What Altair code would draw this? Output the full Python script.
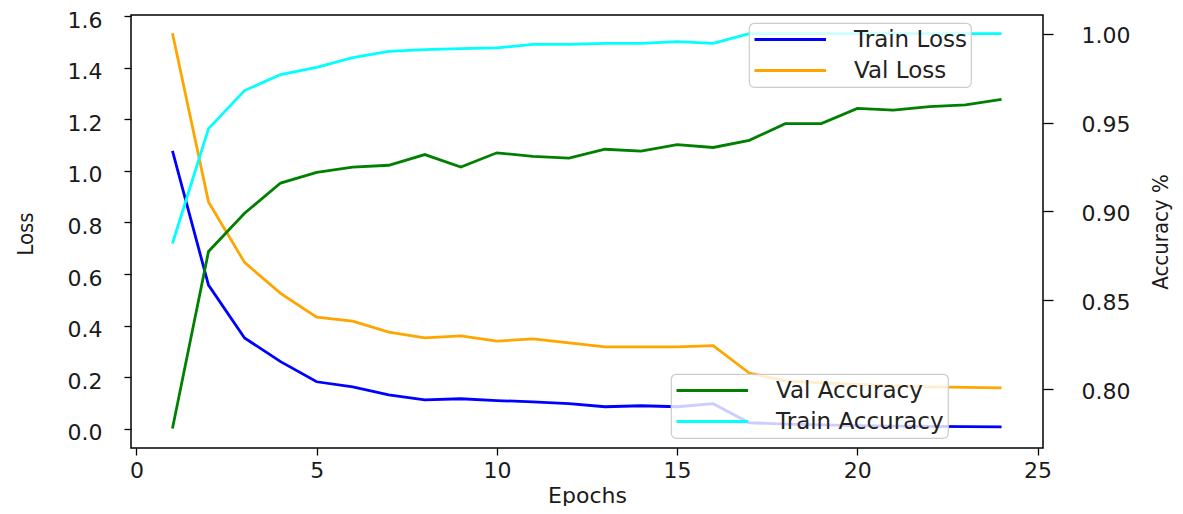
import altair as alt
import pandas as pd

epochs = list(range(1, 25))
train_loss = [1.078, 0.557, 0.352, 0.260, 0.182, 0.162, 0.131, 0.112, 0.116, 0.109, 0.104, 0.097,
              0.085, 0.089, 0.085, 0.097, 0.023, 0.018, 0.015, 0.012, 0.010, 0.009, 0.008, 0.007]
val_loss = [1.534, 0.880, 0.645, 0.525, 0.433, 0.417, 0.375, 0.352, 0.360, 0.340, 0.348, 0.333,
            0.317, 0.317, 0.317, 0.322, 0.216, 0.185, 0.178, 0.172, 0.166, 0.162, 0.160, 0.158]
val_acc = [0.778, 0.8775, 0.899, 0.916, 0.922, 0.925, 0.926, 0.932, 0.925, 0.933, 0.931, 0.930,
           0.935, 0.934, 0.9376, 0.936, 0.940, 0.9494, 0.9494, 0.958, 0.957, 0.959, 0.960, 0.963]
train_acc = [0.882, 0.9466, 0.968, 0.977, 0.981, 0.9865, 0.990, 0.991, 0.9916, 0.992, 0.994, 0.994,
             0.9945, 0.9945, 0.9955, 0.9945, 1.0, 1.0, 1.0, 1.0, 1.0, 1.0, 1.0, 1.0]

loss_names = ["Train Loss", "Val Loss"]
loss_colors = ["#0000ff", "#ffa500"]
acc_names = ["Val Accuracy", "Train Accuracy"]
acc_colors = ["#008000", "#00ffff"]

loss_df = pd.DataFrame({
    "Epoch": epochs * 2,
    "Value": train_loss + val_loss,
    "Series": [loss_names[0]] * len(epochs) + [loss_names[1]] * len(epochs),
})
acc_df = pd.DataFrame({
    "Epoch": epochs * 2,
    "Value": val_acc + train_acc,
    "Series": [acc_names[0]] * len(epochs) + [acc_names[1]] * len(epochs),
})

FONT = "DejaVu Sans"
NARROW = "Liberation Sans Narrow, DejaVu Sans Condensed, Liberation Sans"
W, H = 912, 433

x_enc = alt.X(
    "Epoch:Q",
    scale=alt.Scale(domain=[-0.15, 25.15], nice=False, zero=False),
    axis=alt.Axis(values=[0, 5, 10, 15, 20, 25], format="d", title="Epochs",
                  titleX=W / 2, titleY=54, titleAlign="center", titleBaseline="alphabetic",
                  titleFont=FONT, titleFontSize=22, labelPadding=5),
)

leg_common = dict(
    orient="none", title=None, symbolType="M-1,0L5.5,0", symbolSize=484,
    symbolStrokeWidth=2.8, labelFont=FONT, labelFontSize=23, labelColor="#222222",
    labelOffset=76, labelLimit=500, fillColor="rgba(255,255,255,0.8)", strokeColor="#cccccc",
    cornerRadius=5, padding=4, rowPadding=6,
)

loss = alt.Chart(loss_df).mark_line(strokeWidth=2.8).encode(
    x=x_enc,
    y=alt.Y(
        "Value:Q",
        scale=alt.Scale(domain=[-0.075, 1.605], nice=False, zero=False),
        axis=alt.Axis(orient="left", values=[0, 0.2, 0.4, 0.6, 0.8, 1.0, 1.2, 1.4, 1.6],
                      format=".1f", title="Loss", titleX=-106, titleY=H / 2 + 2, titleAngle=270,
                      titleAlign="center", titleBaseline="middle", titleFont=NARROW,
                      titleFontSize=22, labelPadding=22, labelOffset=4),
    ),
    color=alt.Color("Series:N", scale=alt.Scale(domain=loss_names, range=loss_colors),
                    legend=alt.Legend(legendX=618, legendY=8, **leg_common)),
)

acc = alt.Chart(acc_df).mark_line(strokeWidth=2.8).encode(
    x=x_enc,
    y=alt.Y(
        "Value:Q",
        scale=alt.Scale(domain=[0.767, 1.0105], nice=False, zero=False),
        axis=alt.Axis(orient="right", values=[0.80, 0.85, 0.90, 0.95, 1.00],
                      format=".2f", title="Accuracy %", titleX=117, titleY=H / 2, titleAngle=270,
                      titleAlign="center", titleBaseline="middle", titleFont=NARROW,
                      titleFontSize=22, labelPadding=28, labelOffset=2, tickSize=10),
    ),
    color=alt.Color("Series:N", scale=alt.Scale(domain=acc_names, range=acc_colors),
                    legend=alt.Legend(legendX=540, legendY=359, **leg_common)),
)

chart = (
    alt.layer(loss, acc)
    .resolve_scale(y="independent", color="independent")
    .properties(width=W, height=H, autosize=alt.AutoSizeParams(type="none"),
                padding={"left": 123, "top": 7, "right": 130, "bottom": 58},
                background="white")
    .configure_view(stroke="black", strokeWidth=1.5)
    .configure_axis(grid=False, domain=False, tickColor="black", tickWidth=1.3, tickSize=7,
                    labelFont=FONT, labelFontSize=22, labelColor="#1a1a1a",
                    titleColor="#1a1a1a", titleFontWeight="normal")
    .configure_legend(strokeWidth=1.2)
)

chart.save("out.html", embed_options={"renderer": "svg", "actions": False})
